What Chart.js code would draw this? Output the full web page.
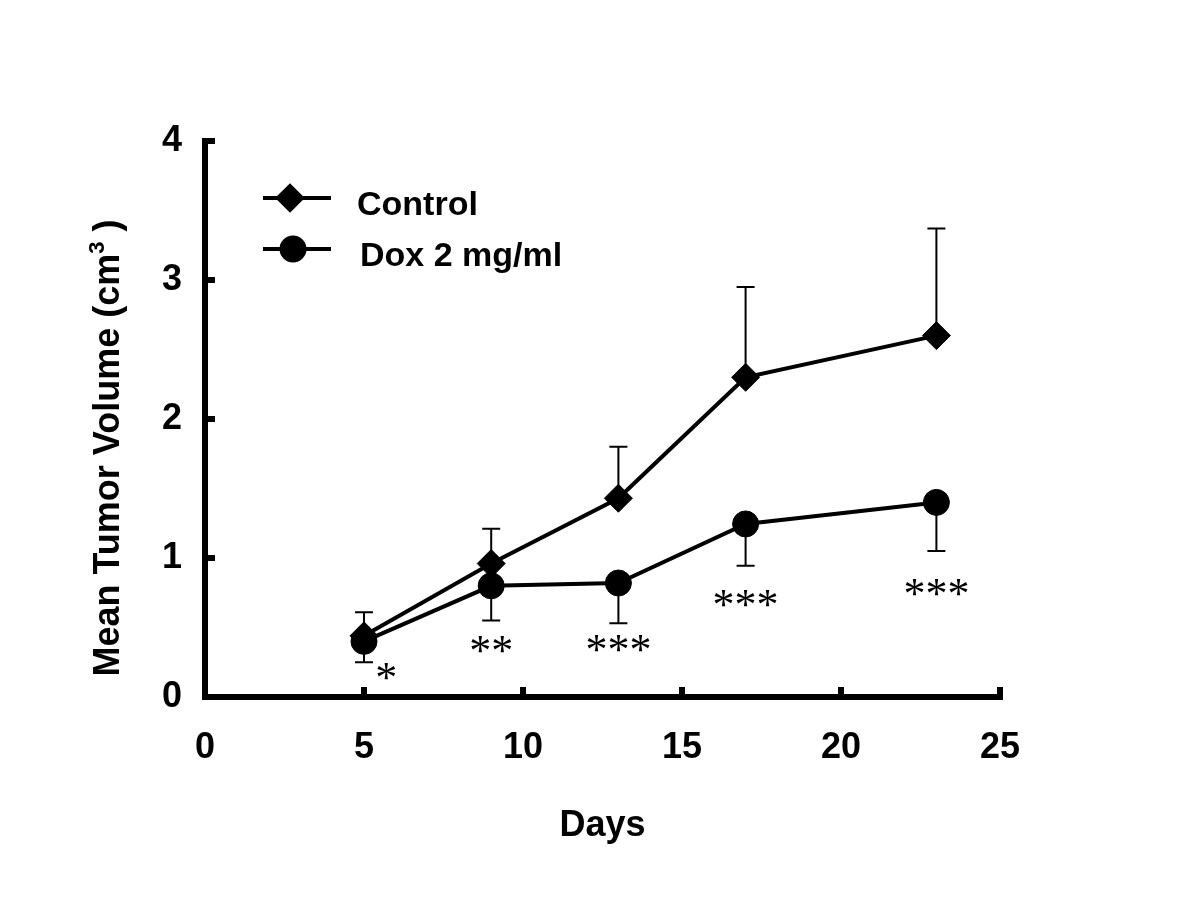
<!DOCTYPE html>
<html>
<head>
<meta charset="utf-8">
<script src="https://cdn.jsdelivr.net/npm/chart.js@4.4.0/dist/chart.umd.min.js"></script>
<style>
  body { margin: 0; background: #fff; }
</style>
</head>
<body>
<canvas id="tumor" width="1200" height="914"></canvas>
<script>
const dias = [5, 9, 13, 17, 23];
const control = [0.44, 0.96, 1.43, 2.30, 2.60];
const controlSD = [0.17, 0.25, 0.37, 0.65, 0.77];
const dox = [0.40, 0.80, 0.82, 1.245, 1.40];
const doxSD = [0.15, 0.25, 0.29, 0.30, 0.35];
const estrellas = ["*", "**", "***", "***", "***"];
const estrellaX = [5.7, 9, 13, 17, 23];
const estrellaY = [0.19, 0.38, 0.39, 0.71, 0.79];
const xTicks = [0, 5, 10, 15, 20, 25];
const yTicks = [0, 1, 2, 3, 4];

const sans = "'Liberation Sans', Arial, sans-serif";

// barras de error: control hacia arriba, dox hacia abajo
const errorBars = {
  id: "errorBars",
  beforeDatasetsDraw(chart) {
    const ctx = chart.ctx;
    const y = chart.scales.y;
    ctx.save();
    ctx.strokeStyle = "#000";
    ctx.lineWidth = 2;
    chart.data.datasets.forEach((ds, i) => {
      const meta = chart.getDatasetMeta(i);
      meta.data.forEach((pt, j) => {
        const v = ds.data[j].y;
        const fin = y.getPixelForValue(v + ds.dir * ds.sd[j]);
        ctx.beginPath();
        ctx.moveTo(pt.x, pt.y);
        ctx.lineTo(pt.x, fin);
        ctx.moveTo(pt.x - 9, fin);
        ctx.lineTo(pt.x + 9, fin);
        ctx.stroke();
      });
    });
    ctx.restore();
  },
};

const extras = {
  id: "extras",
  afterDraw(chart) {
    const ctx = chart.ctx;
    const { x, y } = chart.scales;
    const area = chart.chartArea;
    ctx.save();
    ctx.fillStyle = "#000";
    ctx.strokeStyle = "#000";

    // asteriscos
    ctx.font = "44px 'Liberation Serif', 'Times New Roman', serif";
    ctx.textAlign = "center";
    ctx.textBaseline = "alphabetic";
    estrellas.forEach((s, i) => {
      ctx.fillText(s, x.getPixelForValue(estrellaX[i]), y.getPixelForValue(estrellaY[i]) + 21);
    });

    // titulo eje y con superindice
    const partes = [
      { t: "Mean Tumor Volume (cm", f: "bold 36px " + sans, dy: 0 },
      { t: "3", f: "bold 22px " + sans, dy: -15 },
      { t: " )", f: "bold 36px " + sans, dy: 0 },
    ];
    let total = 0;
    partes.forEach((p) => { ctx.font = p.f; p.w = ctx.measureText(p.t).width; total += p.w; });
    ctx.translate(area.left - 86, (area.top + area.bottom) / 2 + 29);
    ctx.rotate(-Math.PI / 2);
    ctx.textAlign = "left";
    let px = -total / 2;
    partes.forEach((p) => { ctx.font = p.f; ctx.fillText(p.t, px, p.dy); px += p.w; });
    ctx.restore();

    // leyenda
    ctx.save();
    ctx.fillStyle = "#000";
    ctx.strokeStyle = "#000";
    chart.data.datasets.forEach((ds, i) => {
      const fila = area.top + 57 + i * 51;
      ctx.lineWidth = 4;
      ctx.beginPath();
      ctx.moveTo(area.left + 58, fila);
      ctx.lineTo(area.left + 126, fila);
      ctx.stroke();
      Chart.helpers.drawPoint(ctx, { pointStyle: ds.pointStyle, radius: ds.legendRadius, borderWidth: 1 }, area.left + 85 + i * 3, fila);
      ctx.font = "bold 34px " + sans;
      ctx.textAlign = "left";
      ctx.textBaseline = "alphabetic";
      ctx.fillText(ds.label, area.left + 152 + i * 3, fila + 17);
    });
    ctx.restore();
  },
};

new Chart(document.getElementById("tumor"), {
  type: "line",
  data: {
    datasets: [
      {
        label: "Control",
        data: dias.map((d, i) => ({ x: d, y: control[i] })),
        sd: controlSD,
        dir: 1,
        borderColor: "#000",
        backgroundColor: "#000",
        borderWidth: 4,
        pointStyle: "rectRot",
        pointRadius: 14,
        legendRadius: 12,
        pointBorderWidth: 1,
        order: 1,
      },
      {
        label: "Dox 2 mg/ml",
        data: dias.map((d, i) => ({ x: d, y: dox[i] })),
        sd: doxSD,
        dir: -1,
        borderColor: "#000",
        backgroundColor: "#000",
        borderWidth: 4,
        pointStyle: "circle",
        pointRadius: 13,
        legendRadius: 11.5,
        pointBorderWidth: 1,
        order: 0,
      },
    ],
  },
  options: {
    responsive: false,
    devicePixelRatio: 1,
    animation: false,
    layout: { padding: { top: 141, right: 200, bottom: 0, left: 0 } },
    plugins: {
      legend: { display: false },
      tooltip: { enabled: false },
    },
    scales: {
      x: {
        type: "linear",
        min: 0,
        max: 25,
        afterFit: (scale) => { scale.height = 217; },
        afterBuildTicks: (scale) => { scale.ticks = xTicks.map((v) => ({ value: v })); },
        border: { display: true, color: "#000", width: 6 },
        grid: { drawOnChartArea: false, color: "#000", lineWidth: 6, tickLength: -10 },
        ticks: { color: "#000", padding: 39, font: { family: sans, weight: "bold", size: 36 } },
        title: {
          display: true,
          text: "Days",
          color: "#000",
          padding: { top: 0, bottom: 66 },
          font: { family: sans, weight: "bold", size: 36 },
        },
      },
      y: {
        min: 0,
        max: 4,
        afterFit: (scale) => { scale.width = 205; },
        afterBuildTicks: (scale) => { scale.ticks = yTicks.map((v) => ({ value: v })); },
        border: { display: true, color: "#000", width: 6 },
        grid: { drawOnChartArea: false, color: "#000", lineWidth: 6, tickLength: -10 },
        ticks: { color: "#000", padding: 33, font: { family: sans, weight: "bold", size: 36 } },
      },
    },
  },
  plugins: [errorBars, extras],
});
</script>
</body>
</html>
